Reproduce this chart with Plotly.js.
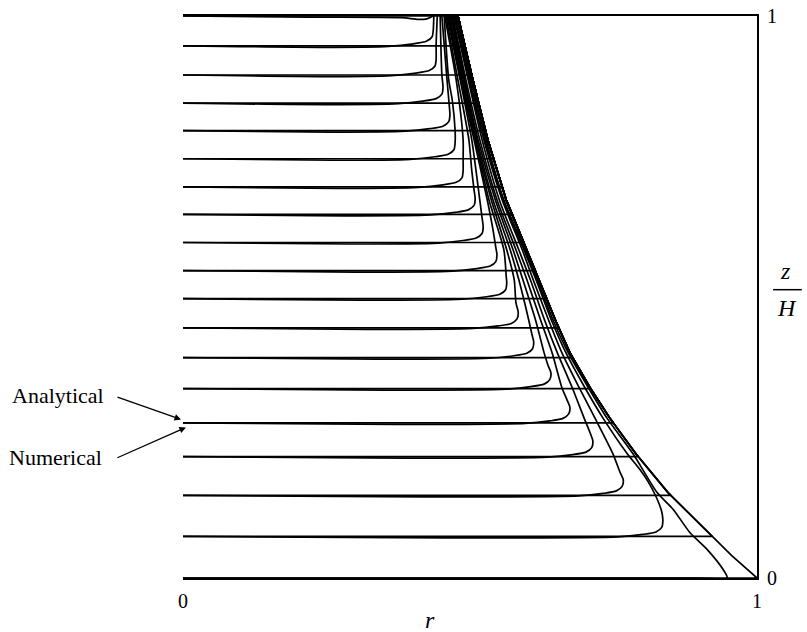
<!DOCTYPE html>
<html>
<head>
<meta charset="utf-8">
<script src="https://cdn.plot.ly/plotly-3.0.1.min.js"></script>
<style>
  html, body { margin: 0; padding: 0; background: #ffffff; }
  #chart { width: 807px; height: 632px; }
</style>
</head>
<body>
<div id="chart"></div>
<script>
// Initial heights z/H of the marked surfaces
const levels = [0, 0.074, 0.147, 0.216, 0.276, 0.337, 0.392, 0.445, 0.497, 0.547,
                0.597, 0.647, 0.696, 0.746, 0.796, 0.845, 0.895, 0.947, 1.0];

// Analytical profiles: flat part ends at analyticEnd, then follows the outer curve
const analyticEnd = [1.000, 0.922, 0.850, 0.793, 0.750, 0.710, 0.679, 0.655, 0.634, 0.614,
                     0.594, 0.574, 0.556, 0.541, 0.527, 0.515, 0.503, 0.491, 0.479];
const envelopeR = [1.000, 0.956, 0.915, 0.845, 0.789, 0.744, 0.709, 0.674, 0.650, 0.620,
                   0.599, 0.563, 0.531, 0.505, 0.479];
const envelopeZ = [0, 0.040, 0.081, 0.152, 0.221, 0.284, 0.339, 0.401, 0.456, 0.531,
                   0.584, 0.673, 0.780, 0.886, 1.0];

// Numerical profiles, one (r, z) list per surface, bottom to top
const numR0 = [0, 0.900, 0.948, 0.941, 0.913, 0.883, 0.854, 0.826, 0.784, 0.739, 0.706, 0.671, 0.646, 0.617, 0.596, 0.559, 0.528, 0.502, 0.477];
const numZ0 = [0, 0, 0, 0.015, 0.051, 0.081, 0.122, 0.152, 0.221, 0.284, 0.339, 0.401, 0.456, 0.531, 0.584, 0.673, 0.780, 0.886, 1.0];
const numR1 = [0, 0.46, 0.758, 0.801, 0.824, 0.834, 0.836, 0.834, 0.824, 0.810, 0.796, 0.774, 0.732, 0.700, 0.667, 0.643, 0.615, 0.594, 0.557, 0.526, 0.500, 0.476];
const numZ1 = [0.074, 0.0713, 0.073, 0.0775, 0.082, 0.090, 0.102, 0.118, 0.145, 0.172, 0.193, 0.221, 0.284, 0.339, 0.401, 0.456, 0.531, 0.584, 0.673, 0.780, 0.886, 1.0];
const numR2 = [0, 0.42, 0.689, 0.732, 0.755, 0.765, 0.767, 0.761, 0.749, 0.718, 0.690, 0.660, 0.638, 0.610, 0.591, 0.556, 0.524, 0.498, 0.474];
const numZ2 = [0.147, 0.1443, 0.146, 0.1505, 0.155, 0.163, 0.175, 0.189, 0.221, 0.284, 0.339, 0.401, 0.456, 0.531, 0.584, 0.673, 0.780, 0.886, 1.0];
const numR3 = [0, 0.39, 0.636, 0.679, 0.702, 0.712, 0.714, 0.709, 0.699, 0.678, 0.652, 0.631, 0.605, 0.585, 0.551, 0.521, 0.497, 0.472];
const numZ3 = [0.216, 0.2133, 0.215, 0.2195, 0.224, 0.232, 0.244, 0.259, 0.284, 0.339, 0.401, 0.456, 0.531, 0.584, 0.673, 0.780, 0.886, 1.0];
const numR4 = [0, 0.37, 0.596, 0.639, 0.662, 0.672, 0.674, 0.669, 0.660, 0.643, 0.624, 0.599, 0.580, 0.547, 0.517, 0.493, 0.470];
const numZ4 = [0.276, 0.2733, 0.275, 0.2795, 0.284, 0.292, 0.304, 0.317, 0.339, 0.401, 0.456, 0.531, 0.584, 0.673, 0.780, 0.886, 1.0];
const numR5 = [0, 0.35, 0.563, 0.606, 0.629, 0.639, 0.641, 0.636, 0.629, 0.615, 0.592, 0.575, 0.544, 0.514, 0.491, 0.469];
const numZ5 = [0.337, 0.3343, 0.336, 0.3405, 0.345, 0.353, 0.365, 0.378, 0.401, 0.456, 0.531, 0.584, 0.673, 0.780, 0.886, 1.0];
const numR6 = [0, 0.34, 0.533, 0.576, 0.599, 0.609, 0.611, 0.608, 0.603, 0.585, 0.570, 0.540, 0.512, 0.490, 0.467];
const numZ6 = [0.392, 0.3893, 0.391, 0.3955, 0.400, 0.408, 0.420, 0.433, 0.456, 0.531, 0.584, 0.673, 0.780, 0.886, 1.0];
const numR7 = [0, 0.32, 0.506, 0.549, 0.572, 0.582, 0.584, 0.580, 0.577, 0.564, 0.537, 0.510, 0.488, 0.465];
const numZ7 = [0.445, 0.4423, 0.444, 0.4485, 0.453, 0.461, 0.473, 0.490, 0.531, 0.584, 0.673, 0.780, 0.886, 1.0];
const numR8 = [0, 0.31, 0.486, 0.529, 0.552, 0.562, 0.564, 0.563, 0.559, 0.533, 0.509, 0.486, 0.463];
const numZ8 = [0.497, 0.4943, 0.496, 0.5005, 0.505, 0.513, 0.525, 0.538, 0.584, 0.673, 0.780, 0.886, 1.0];
const numR9 = [0, 0.30, 0.469, 0.512, 0.535, 0.545, 0.547, 0.545, 0.540, 0.530, 0.507, 0.484, 0.462];
const numZ9 = [0.547, 0.5443, 0.546, 0.5505, 0.555, 0.563, 0.575, 0.588, 0.620, 0.673, 0.780, 0.886, 1.0];
const numR10 = [0, 0.29, 0.445, 0.488, 0.511, 0.521, 0.523, 0.521, 0.517, 0.503, 0.483, 0.460];
const numZ10 = [0.597, 0.5943, 0.596, 0.6005, 0.605, 0.613, 0.625, 0.641, 0.673, 0.780, 0.886, 1.0];
const numR11 = [0, 0.28, 0.431, 0.474, 0.497, 0.507, 0.509, 0.507, 0.503, 0.498, 0.479, 0.458];
const numZ11 = [0.647, 0.6443, 0.646, 0.6505, 0.655, 0.663, 0.675, 0.691, 0.726, 0.780, 0.886, 1.0];
const numR12 = [0, 0.27, 0.410, 0.453, 0.476, 0.486, 0.488, 0.488, 0.488, 0.476, 0.456];
const numZ12 = [0.696, 0.6933, 0.695, 0.6995, 0.704, 0.712, 0.724, 0.744, 0.780, 0.886, 1.0];
const numR13 = [0, 0.26, 0.396, 0.439, 0.462, 0.472, 0.474, 0.474, 0.469, 0.463, 0.455];
const numZ13 = [0.746, 0.7433, 0.745, 0.7495, 0.754, 0.762, 0.774, 0.797, 0.851, 0.886, 1.0];
const numR14 = [0, 0.26, 0.387, 0.430, 0.453, 0.463, 0.465, 0.463, 0.460, 0.451];
const numZ14 = [0.796, 0.7933, 0.795, 0.7995, 0.804, 0.812, 0.824, 0.851, 0.886, 1.0];
const numR15 = [0, 0.25, 0.375, 0.418, 0.441, 0.451, 0.453, 0.451, 0.448];
const numZ15 = [0.845, 0.8423, 0.844, 0.8485, 0.853, 0.861, 0.873, 0.895, 1.0];
const numR16 = [0, 0.24, 0.363, 0.406, 0.429, 0.439, 0.441, 0.441, 0.443];
const numZ16 = [0.895, 0.8923, 0.894, 0.8985, 0.903, 0.911, 0.923, 0.948, 1.0];
const numR17 = [0, 0.24, 0.358, 0.401, 0.424, 0.434, 0.436, 0.437];
const numZ17 = [0.947, 0.9443, 0.946, 0.9505, 0.955, 0.963, 0.975, 1.0];
const numR18 = [0, 0.22, 0.38, 0.41, 0.425, 0.436];
const numZ18 = [1.0, 0.998, 0.997, 0.994, 0.995, 1.0];

const numericalR = [numR0, numR1, numR2, numR3, numR4, numR5, numR6, numR7, numR8, numR9,
                    numR10, numR11, numR12, numR13, numR14, numR15, numR16, numR17, numR18];
const numericalZ = [numZ0, numZ1, numZ2, numZ3, numZ4, numZ5, numZ6, numZ7, numZ8, numZ9,
                    numZ10, numZ11, numZ12, numZ13, numZ14, numZ15, numZ16, numZ17, numZ18];

// Axis tick labels
const rTickVals = [0, 1];
const rTickText = ['0', '1'];
const zTickVals = [0, 1];
const zTickText = ['0', '1'];

const serif = 'Liberation Serif, Times New Roman, serif';
const ink = '#000000';
const traces = [];

// Analytical: flat segment, then the common outer curve above that height
levels.forEach((z0, k) => {
  const xs = [0, analyticEnd[k]];
  const ys = [z0, z0];
  envelopeZ.forEach((ze, i) => {
    if (ze > z0 + 0.001) { xs.push(envelopeR[i]); ys.push(ze); }
  });
  traces.push({
    type: 'scatter', mode: 'lines', x: xs, y: ys,
    line: { color: ink, width: 1.7, shape: 'linear' },
    hoverinfo: 'skip'
  });
});

// Numerical: smooth profiles with rounded corners
numericalR.forEach((rs, k) => {
  traces.push({
    type: 'scatter', mode: 'lines', x: rs, y: numericalZ[k],
    line: { color: ink, width: 1.7, shape: 'spline', smoothing: 0.7 },
    hoverinfo: 'skip'
  });
});

const label = (x, y, text, size) => ({
  xref: 'paper', yref: 'paper', x: x, y: y, text: text, showarrow: false,
  xanchor: 'center', yanchor: 'middle',
  font: { family: serif, size: size, color: ink }
});

const layout = {
  width: 807, height: 632,
  margin: { l: 183, r: 50, t: 16, b: 54, pad: 0 },
  paper_bgcolor: '#ffffff', plot_bgcolor: '#ffffff',
  showlegend: false,
  font: { family: serif, color: ink, size: 20 },
  xaxis: {
    range: [0, 1], showgrid: false, zeroline: false,
    showline: true, mirror: true, linecolor: ink, linewidth: 2,
    tickmode: 'array', tickvals: rTickVals, ticktext: rTickText,
    ticks: '', ticklabelstandoff: 4,
    tickfont: { family: serif, size: 20, color: ink }
  },
  yaxis: {
    range: [0, 1], side: 'right', showgrid: false, zeroline: false,
    showline: true, mirror: false, linecolor: ink, linewidth: 2,
    tickmode: 'array', tickvals: zTickVals, ticktext: zTickText,
    ticks: '', ticklabelstandoff: 4,
    tickfont: { family: serif, size: 20, color: ink }
  },
  shapes: [
    // fraction bar of z/H
    { type: 'line', xref: 'paper', yref: 'paper', x0: 1.028, x1: 1.078, y0: 0.513, y1: 0.513,
      line: { color: ink, width: 1.5 } }
  ],
  annotations: [
    label(0.430, -0.074, '<i>r</i>', 24),
    label(1.050, 0.547, '<i>z</i>', 24),
    label(1.053, 0.481, '<i>H</i>', 24),
    label(-0.218, 0.325, 'Analytical', 22),
    label(-0.222, 0.215, 'Numerical', 22),
    { xref: 'paper', yref: 'paper', x: -0.0035, y: 0.282, text: '', showarrow: true,
      ax: -65, ay: -23, arrowhead: 2, arrowsize: 1, arrowwidth: 1.3, arrowcolor: ink, standoff: 0 },
    { xref: 'paper', yref: 'paper', x: 0.005, y: 0.268, text: '', showarrow: true,
      ax: -70, ay: 31, arrowhead: 2, arrowsize: 1, arrowwidth: 1.3, arrowcolor: ink, standoff: 0 }
  ]
};

Plotly.newPlot('chart', traces, layout, { staticPlot: true, displayModeBar: false });
</script>
</body>
</html>
